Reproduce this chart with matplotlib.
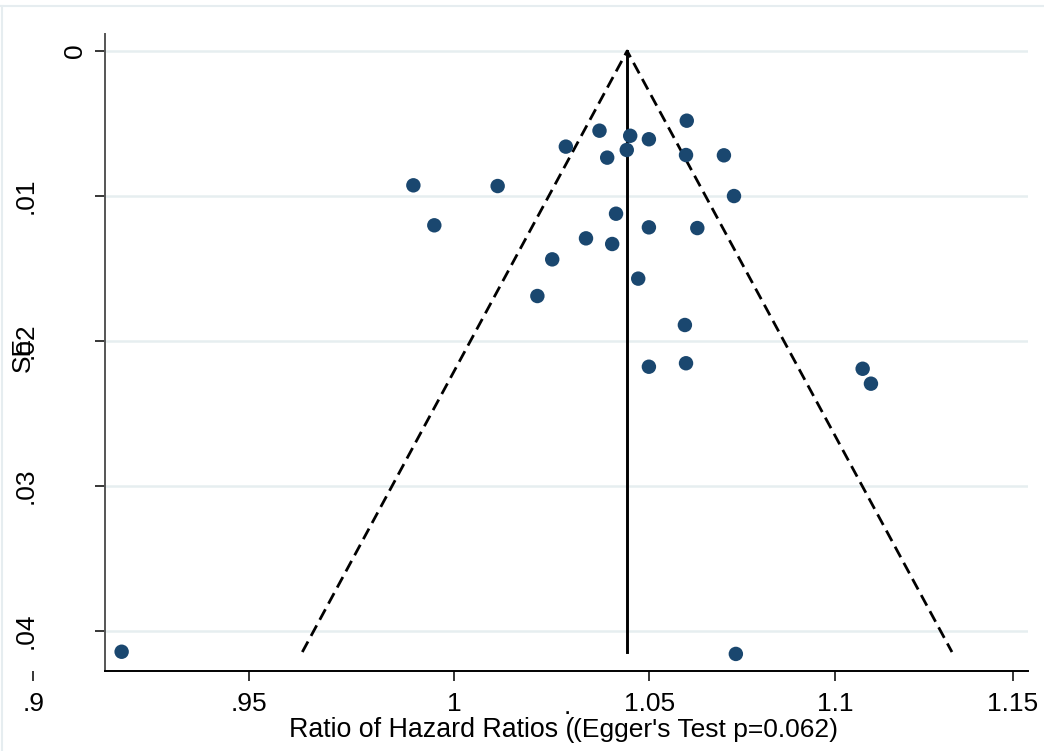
import numpy as np
import matplotlib
matplotlib.use("Agg")
import matplotlib.pyplot as plt
from matplotlib.lines import Line2D
from matplotlib.ticker import NullLocator
from matplotlib.transforms import ScaledTranslation

plt.rcParams['font.family'] = ['Liberation Sans', 'DejaVu Sans']

# ---- data (ratio of hazard ratios, standard error of log ratio) ----
ratio = [1.0599, 1.0370, 1.0450, 1.0499, 1.0283, 1.0441, 1.0390, 1.0597, 1.0698,
         0.9898, 1.0109, 1.0725, 1.0413, 0.9950, 1.0499, 1.0627, 1.0335, 1.0403,
         1.0248, 1.0471, 1.0210, 1.0594, 1.0499, 1.0597, 1.1076, 1.1099,
         0.9201, 1.0730]
se = [0.00481, 0.00550, 0.00585, 0.00609, 0.00660, 0.00683, 0.00736, 0.00718, 0.00720,
      0.00927, 0.00932, 0.01001, 0.01123, 0.01203, 0.01217, 0.01222, 0.01293, 0.01332,
      0.01438, 0.01571, 0.01691, 0.01891, 0.02179, 0.02155, 0.02193, 0.02296,
      0.04146, 0.04161]
pooled = 1.0442
se_max = 0.04148

xticks = [0.9, 0.95, 1.0, 1.05, 1.1, 1.15]
xtick_labels = ['.9', '.95', '1', '1.05', '1.1', '1.15']
yticks = [0, 0.01, 0.02, 0.03, 0.04]
ytick_labels = ['0', '.01', '.02', '.03', '.04']

W, H = 1044, 751
fig = plt.figure(figsize=(W / 100, H / 100), dpi=100)
fig.patch.set_facecolor('white')


def fx(px):
    return px / W


def fy(py):
    return 1 - py / H


ax = fig.add_axes([fx(20), fy(670.7), fx(1028) - fx(20), fy(34) - fy(670.7)])
ax.set_facecolor('none')
ax.set_xscale('log')
x_left_spine = 0.91628
ax.set_xlim(0.89699, 1.1544)
ax.set_ylim(0.042768, -0.001173)

ax.spines['top'].set_visible(False)
ax.spines['right'].set_visible(False)
ax.spines['left'].set_position(('data', x_left_spine))
ax.spines['left'].set_color('#555555')
ax.spines['left'].set_linewidth(1.4)
ax.spines['bottom'].set_bounds(x_left_spine, 1.1544)
ax.spines['bottom'].set_color('black')
ax.spines['bottom'].set_linewidth(1.4)

ax.set_xticks(xticks)
ax.set_xticklabels(xtick_labels)
ax.xaxis.set_minor_locator(NullLocator())
ax.set_yticks(yticks)
ax.set_yticklabels(ytick_labels, rotation=90, va='center')
ax.tick_params(axis='both', labelsize=19, length=7.2, width=1.1, direction='out',
               colors='black')
ax.tick_params(axis='y', pad=41)
ax.tick_params(axis='x', pad=8)

# the "0" label sits much closer to the axis in the original
lab0 = ax.get_yticklabels()[0]
lab0.set_transform(lab0.get_transform() + ScaledTranslation(49 / 100, 0, fig.dpi_scale_trans))

# gridlines
ax.hlines(yticks, x_left_spine, 1.1544, color='#e6eef0', lw=1.8, zorder=0)

# funnel lines
ax.plot([pooled, pooled], [0, se_max], color='black', lw=2.1, zorder=2)
lo = pooled * np.exp(-1.96 * se_max)
hi = pooled * np.exp(1.96 * se_max)
ax.plot([lo, pooled, hi], [se_max, 0, se_max], color='black', lw=2.0,
        dashes=(4.3, 2.3), zorder=2)

# points
ax.scatter(ratio, se, s=108, color='#1a476f', edgecolors='none', zorder=4)

# y label
fig.text(fx(35), fy(354), 'SE', rotation=90, ha='right', va='center', fontsize=19)

# x label (overlapping pieces as in original)
fig.text(fx(574), fy(737), 'Ratio of Hazard Ratios (', ha='right', va='baseline', fontsize=19.3)
fig.text(fx(573), fy(737), "(Egger's Test p=0.062)", ha='left', va='baseline', fontsize=19)
fig.text(fx(567), fy(714), '.', ha='center', va='baseline', fontsize=19)

# light frame border
fig.add_artist(Line2D([0, 1], [fy(6), fy(6)], transform=fig.transFigure,
                      color='#e6edf0', lw=1.5))
fig.add_artist(Line2D([fx(1.5), fx(1.5)], [fy(6), 0], transform=fig.transFigure,
                      color='#e6edf0', lw=1.5))

fig.savefig('out.png', dpi=100, facecolor='white')
